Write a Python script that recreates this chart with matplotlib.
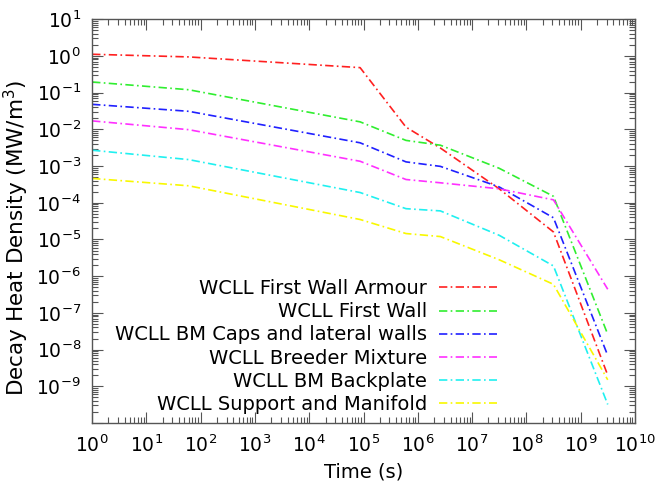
import numpy as np
import matplotlib
matplotlib.use("Agg")
import matplotlib.pyplot as plt
from matplotlib.ticker import LogLocator, NullFormatter, LogFormatterMathtext

# cooling times (s): 1 s, 1 min, 1 day, 1 week, 1 month, 1 y, 10 y, 100 y
times = [1, 60, 86400, 6.05e5, 2.6e6, 3.15e7, 3.15e8, 3.15e9]

fw_armour = [1.11, 0.94, 0.48, 1.15e-2, 3.1e-3, 2.4e-4, 1.6e-5, 2.0e-9]
first_wall = [0.195, 0.12, 1.6e-2, 5.0e-3, 3.7e-3, 8.7e-4, 1.5e-4, 2.6e-8]
bm_caps = [0.048, 0.031, 4.3e-3, 1.3e-3, 9.8e-4, 2.7e-4, 3.9e-5, 6.9e-9]
breeder = [0.017, 9.8e-3, 1.35e-3, 4.3e-4, 3.5e-4, 2.4e-4, 1.2e-4, 4.4e-7]
backplate = [2.7e-3, 1.5e-3, 1.9e-4, 6.9e-5, 6.0e-5, 1.3e-5, 1.9e-6, 3.2e-10]
manifold = [4.6e-4, 2.9e-4, 3.5e-5, 1.45e-5, 1.2e-5, 2.8e-6, 6.0e-7, 1.5e-9]

labels = ["WCLL First Wall Armour", "WCLL First Wall",
          "WCLL BM Caps and lateral walls", "WCLL Breeder Mixture",
          "WCLL BM Backplate", "WCLL Support and Manifold"]
series = [fw_armour, first_wall, bm_caps, breeder, backplate, manifold]
colors = ["#ff2020", "#30ee30", "#2020ff", "#ff30ff", "#20f0f0", "#f8f800"]

plt.rcParams['font.family'] = ['DejaVu Sans']
plt.rcParams['font.size'] = 13

fig = plt.figure(figsize=(6.58, 4.93), dpi=100)
ax = fig.add_axes([0.140, 0.142, 0.825, 0.819])

for vals, lab, col in zip(series, labels, colors):
    ax.plot(times, vals, color=col, lw=1.2, linestyle=(0, (5, 2, 1, 2)), label=lab)

ax.set_xscale('log')
ax.set_yscale('log')
ax.set_xlim(1, 1e10)
ax.set_ylim(1e-10, 1e1)

ax.xaxis.set_major_locator(LogLocator(base=10, numticks=20))
ax.yaxis.set_major_locator(LogLocator(base=10, numticks=20))
ax.xaxis.set_minor_locator(LogLocator(base=10, subs=np.arange(2, 10), numticks=200))
ax.yaxis.set_minor_locator(LogLocator(base=10, subs=np.arange(2, 10), numticks=200))
ax.xaxis.set_minor_formatter(NullFormatter())
ax.yaxis.set_minor_formatter(NullFormatter())

fmt = LogFormatterMathtext()
ax.yaxis.set_major_formatter(plt.FuncFormatter(
    lambda v, p: "" if v < 5e-10 else fmt(v, p)))

ax.tick_params(which='both', direction='in', top=True, right=True, colors='#555555',
               labelcolor='black', labelsize=13.5, pad=8)
ax.tick_params(which='major', length=8, width=0.8)
ax.tick_params(which='minor', length=4, width=0.8)
for s in ax.spines.values():
    s.set_color('#555555')
    s.set_linewidth(1.0)

ax.set_xlabel('Time (s)', fontsize=14, labelpad=5)
ax.set_ylabel('Decay Heat Density (MW/m$^3$)', fontsize=15.5)
ax.yaxis.set_label_coords(-0.112, 0.458)

ax.legend(loc='upper right', bbox_to_anchor=(0.746, 0.356), frameon=False,
          markerfirst=False, handlelength=3.0, handletextpad=0.6,
          labelspacing=0.21, borderpad=0, borderaxespad=0, fontsize=14)

fig.savefig('out.png', dpi=100)
